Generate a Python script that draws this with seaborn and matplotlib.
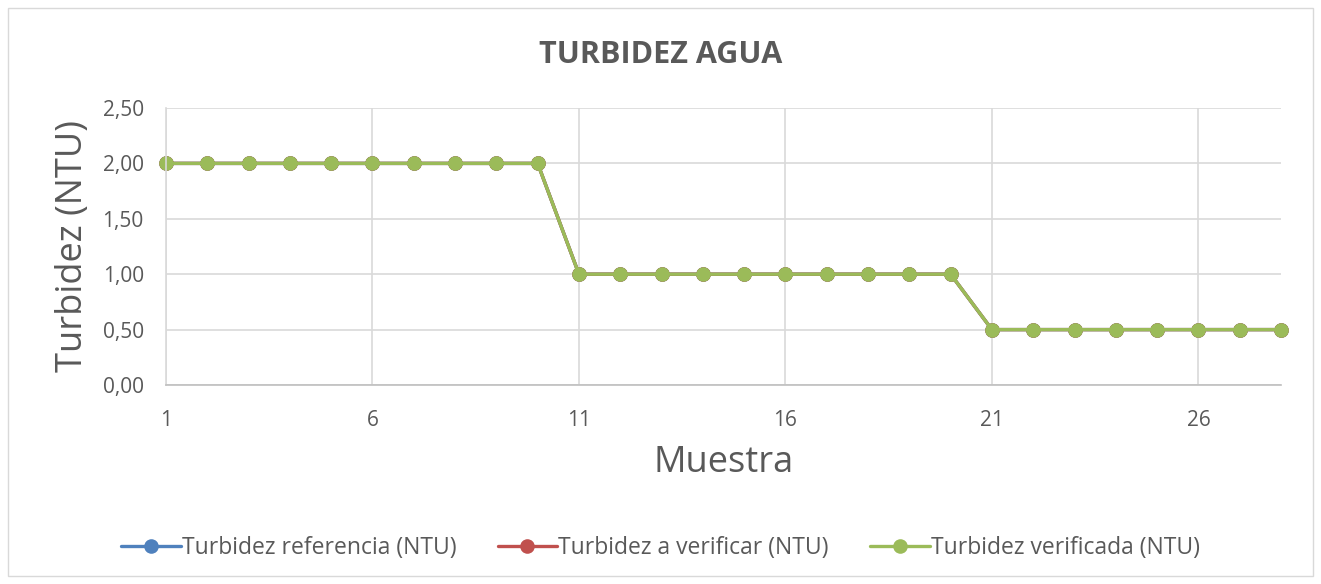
import pandas as pd
import matplotlib.pyplot as plt
import seaborn as sns
from matplotlib.patches import Rectangle
from matplotlib.ticker import FuncFormatter

# data
muestra = list(range(1, 29))
turb_referencia = [2.0] * 10 + [1.0] * 10 + [0.5] * 8
turb_a_verificar = [2.0] * 10 + [1.0] * 10 + [0.5] * 8
turb_verificada = [2.0] * 10 + [1.0] * 10 + [0.5] * 8

series = ['Turbidez referencia (NTU)', 'Turbidez a verificar (NTU)', 'Turbidez verificada (NTU)']
colors = ['#4F81BD', '#C0504D', '#9BBB59']

df = pd.concat([
    pd.DataFrame({'Muestra': muestra, 'Turbidez': turb_referencia, 'Serie': series[0]}),
    pd.DataFrame({'Muestra': muestra, 'Turbidez': turb_a_verificar, 'Serie': series[1]}),
    pd.DataFrame({'Muestra': muestra, 'Turbidez': turb_verificada, 'Serie': series[2]}),
])

sns.set_style('white')
plt.rcParams['font.family'] = ['Open Sans', 'DejaVu Sans']
grey = '#595959'

fig = plt.figure(figsize=(13.21, 5.84), dpi=100)
fig.subplots_adjust(left=166/1321, right=1281/1321, top=1-108/584, bottom=1-385/584)
ax = fig.add_subplot(111)

ax = sns.lineplot(data=df, x='Muestra', y='Turbidez', hue='Serie', palette=colors,
                  marker='o', markersize=10.5, markeredgewidth=0, linewidth=2.4,
                  ax=ax, clip_on=False)
for ln in ax.lines:
    ln.set_clip_on(False)

ax.set_xlim(1, 28)
ax.set_ylim(0, 2.5)
ax.set_xticks([1, 6, 11, 16, 21, 26])
ax.set_yticks([0, 0.5, 1.0, 1.5, 2.0, 2.5])
ax.yaxis.set_major_formatter(FuncFormatter(lambda v, p: f'{v:.2f}'.replace('.', ',')))
ax.grid(True, color='#D9D9D9', linewidth=1.2)
ax.set_axisbelow(True)
ax.tick_params(axis='both', length=0, labelsize=15, colors=grey)
ax.tick_params(axis='x', pad=18)
ax.tick_params(axis='y', pad=16)
for s in ['top', 'right']:
    ax.spines[s].set_visible(False)
for s in ['left', 'bottom']:
    ax.spines[s].set_color('#D9D9D9')
    ax.spines[s].set_linewidth(1.2)
ax.spines['bottom'].set_color('#BFBFBF')

ax.set_xlabel('Muestra', fontsize=26, color=grey, labelpad=10)
ax.set_ylabel('Turbidez (NTU)', fontsize=26, color=grey, labelpad=8)
fig.text(0.5, 1-55/584, 'TURBIDEZ AGUA', ha='center', va='center',
         fontsize=22, fontweight='bold', color=grey)

handles, labels = ax.get_legend_handles_labels()
ax.legend(handles, labels, loc='center', bbox_to_anchor=(0.5, 1-548/584),
          bbox_transform=fig.transFigure, ncol=3, frameon=False, fontsize=16.5,
          labelcolor=grey, handlelength=2.6, handletextpad=0.05, columnspacing=1.8)

fig.patches.append(Rectangle((8/1321, 8/584), 1-16/1321, 1-16/584, transform=fig.transFigure,
                             fill=False, edgecolor='#D9D9D9', linewidth=1))

fig.savefig('out.png', dpi=100)
